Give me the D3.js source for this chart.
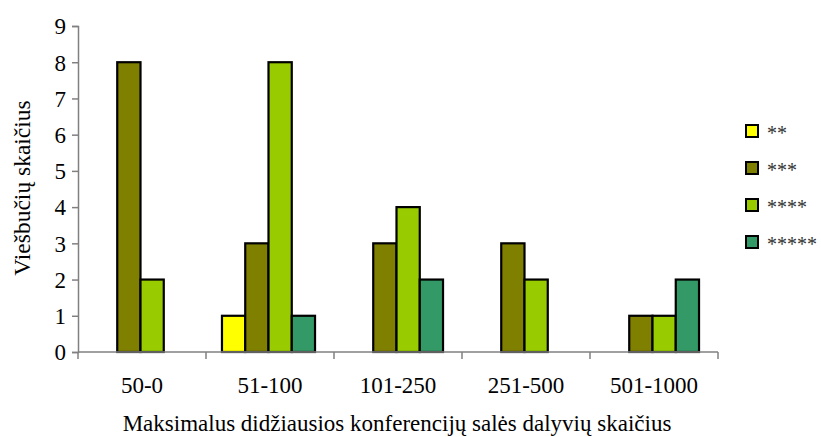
<!DOCTYPE html>
<html>
<head>
<meta charset="utf-8">
<script src="https://cdn.jsdelivr.net/npm/d3@7"></script>
<style>
  body { margin: 0; background: #fff; }
</style>
</head>
<body>
<svg id="chart"></svg>
<script>
const categories = ["50-0", "51-100", "101-250", "251-500", "501-1000"];
const seriesNames = ["**", "***", "****", "*****"];
const twoStars = [0, 1, 0, 0, 0];
const threeStars = [8, 3, 3, 3, 1];
const fourStars = [2, 8, 4, 2, 1];
const fiveStars = [0, 1, 2, 0, 2];
const yTicks = [0, 1, 2, 3, 4, 5, 6, 7, 8, 9];
const colors = ["#FFFF00", "#808000", "#99CC00", "#339966"];

const serif = "'Liberation Serif', 'Times New Roman', serif";
const width = 821, height = 437;
const margin = { left: 78, right: 103, top: 26, bottom: 85 };
const plotW = width - margin.left - margin.right;
const plotH = height - margin.top - margin.bottom;

const series = [twoStars, threeStars, fourStars, fiveStars];

const svg = d3.select("#chart").attr("width", width).attr("height", height);
const g = svg.append("g").attr("transform", `translate(${margin.left},${margin.top})`);

const x0 = d3.scaleBand().domain(categories).range([0, plotW])
    .paddingInner(0.273).paddingOuter(0.1365);
const x1 = d3.scaleBand().domain(seriesNames).range([0, x0.bandwidth()]);
const y = d3.scaleLinear().domain([0, 9]).range([plotH, 0]);

// bars
const groups = g.selectAll(".grp").data(categories).enter().append("g")
    .attr("class", "grp")
    .attr("transform", c => `translate(${x0(c) - 1.5},0)`);

groups.selectAll("rect")
    .data((c, i) => seriesNames.map((s, j) => ({ s, v: series[j][i], j })).filter(d => d.v > 0))
    .enter().append("rect")
    .attr("x", d => x1(d.s))
    .attr("y", d => y(d.v))
    .attr("width", x1.bandwidth())
    .attr("height", d => y(0) - y(d.v))
    .attr("fill", d => colors[d.j])
    .attr("stroke", "#000")
    .attr("stroke-width", 2.2);

// y axis
const yAxis = g.append("g").call(d3.axisLeft(y).tickValues(yTicks).tickSize(6).tickPadding(6));
yAxis.attr("font-family", null).attr("font-size", null);
yAxis.select(".domain").attr("stroke", "#808080").attr("stroke-width", 1.5);
yAxis.selectAll(".tick line").attr("stroke", "#808080").attr("stroke-width", 1.5);
yAxis.selectAll(".tick text")
    .style("font-family", serif).style("font-size", "23px").attr("dy", "0.34em");

// x axis: labels centred in bands, ticks on band edges
const xAxis = g.append("g").attr("transform", `translate(0,${plotH})`);
xAxis.append("line").attr("x1", 0).attr("x2", plotW)
    .attr("stroke", "#808080").attr("stroke-width", 1.5);
const edges = d3.range(categories.length + 1).map(i => i * x0.step());
xAxis.selectAll(".edge").data(edges).enter().append("line")
    .attr("x1", d => d).attr("x2", d => d)
    .attr("y1", 0).attr("y2", 7)
    .attr("stroke", "#808080").attr("stroke-width", 1.5);
xAxis.selectAll(".lbl").data(categories).enter().append("text")
    .attr("x", c => x0(c) + x0.bandwidth() / 2)
    .attr("y", 41)
    .attr("text-anchor", "middle")
    .style("font-family", serif)
    .style("font-size", "23px")
    .text(c => c);

// titles
svg.append("text")
    .attr("x", 397).attr("y", 431)
    .attr("text-anchor", "middle")
    .style("font-family", serif)
    .style("font-size", "23px")
    .text("Maksimalus didžiausios konferencijų salės dalyvių skaičius");

svg.append("text")
    .attr("transform", `translate(30,188) rotate(-90)`)
    .attr("text-anchor", "middle")
    .style("font-family", serif)
    .style("font-size", "23.5px")
    .text("Viešbučių skaičius");

// legend
const legend = svg.append("g").attr("transform", "translate(746,131)");
const items = legend.selectAll(".item").data(seriesNames).enter().append("g")
    .attr("transform", (d, i) => `translate(0,${i * 37})`);
items.append("rect")
    .attr("x", 0).attr("y", -6).attr("width", 12).attr("height", 12)
    .attr("fill", (d, i) => colors[i])
    .attr("stroke", "#000").attr("stroke-width", 2);
items.append("text")
    .attr("x", 21).attr("y", 9)
    .style("font-family", serif)
    .style("font-size", "20px")
    .style("fill", "#333")
    .text(d => d);
</script>
</body>
</html>
